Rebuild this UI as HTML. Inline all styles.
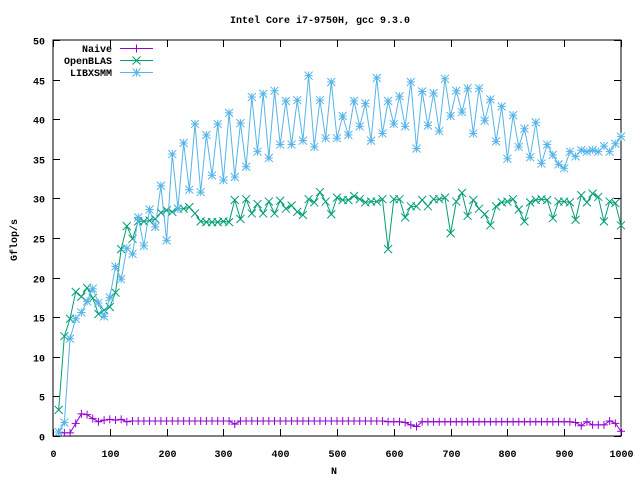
<!DOCTYPE html>
<html><head><meta charset="utf-8"><style>
body{margin:0;background:#fff}
svg text{font-family:"Liberation Mono",monospace;font-size:10px;font-weight:bold;fill:#000}
</style></head><body>
<svg id="chart" width="640" height="480" xmlns="http://www.w3.org/2000/svg">
<rect width="640" height="480" fill="#fff"/>
<text x="320" y="23" text-anchor="middle">Intel Core i7-9750H, gcc 9.3.0</text>
<text x="17" y="240" text-anchor="middle" transform="rotate(-90 17 240)">Gflop/s</text>
<text x="334" y="474" text-anchor="middle">N</text>
<g id="axes"></g>
<g id="series"></g>
<g id="legend"></g>
</svg>
<script>
const xTicks=[0,100,200,300,400,500,600,700,800,900,1000];
const yTicks=[0,5,10,15,20,25,30,35,40,45,50];
const sizes=[];for(let n=10;n<=1000;n+=10)sizes.push(n);
const naive=[0.5,0.4,0.4,1.6,2.8,2.7,2.2,1.8,2.0,2.1,2.0,2.1,1.8,1.9,1.9,1.9,1.9,1.9,1.9,1.9,1.9,1.9,1.9,1.9,1.9,1.9,1.9,1.9,1.9,1.9,1.9,1.5,1.9,1.9,1.9,1.9,1.9,1.9,1.9,1.9,1.9,1.9,1.9,1.9,1.9,1.9,1.9,1.9,1.9,1.9,1.9,1.9,1.9,1.9,1.9,1.9,1.9,1.9,1.8,1.8,1.8,1.7,1.4,1.2,1.8,1.8,1.8,1.8,1.8,1.8,1.8,1.8,1.8,1.8,1.8,1.8,1.8,1.8,1.8,1.8,1.8,1.8,1.8,1.8,1.8,1.8,1.8,1.8,1.8,1.8,1.8,1.7,1.3,1.8,1.4,1.4,1.4,1.9,1.6,0.6];
const openblas=[3.3,12.6,14.8,18.2,17.6,18.7,17.4,15.4,15.9,16.3,18.1,23.6,26.5,24.9,27.1,27.1,27.2,27.4,28.2,28.5,28.3,28.7,28.7,28.9,28.1,27.1,27.0,27.0,27.0,27.1,27.0,29.8,27.4,29.9,28.1,29.3,28.1,29.6,28.1,29.7,28.7,29.1,28.3,27.9,29.9,29.5,30.8,29.6,28.0,30.1,29.8,29.8,30.3,29.9,29.5,29.6,29.6,29.9,23.6,29.9,29.9,27.6,29.0,29.0,29.8,29.0,29.9,29.9,30.1,25.6,29.6,30.7,27.8,29.8,28.7,28.0,26.6,29.0,29.5,29.6,29.9,28.6,27.1,29.5,29.8,29.9,29.8,27.5,29.6,29.6,29.5,27.3,30.4,29.5,30.6,30.2,27.1,29.6,29.4,26.6];
const libxsmm=[0.5,1.7,12.3,14.8,15.6,17.0,18.6,16.8,15.1,17.5,21.4,19.8,23.7,23.0,27.6,24.0,28.6,26.4,31.6,24.7,35.6,28.7,37.0,31.1,39.4,30.8,38.0,32.9,39.4,32.3,40.8,32.7,39.5,34.0,42.8,35.9,43.2,35.1,43.6,36.8,42.3,36.8,42.4,37.3,45.5,36.5,42.4,37.6,44.7,37.6,40.4,38.0,42.3,39.1,42.0,37.3,45.2,38.2,42.3,39.4,42.9,39.1,44.7,36.3,43.5,39.2,43.3,38.5,45.1,40.4,43.6,40.9,43.9,38.2,43.9,39.8,42.5,37.2,41.6,35.0,40.5,36.5,38.8,35.2,39.6,34.4,36.8,35.5,34.3,33.8,35.9,35.3,36.1,35.9,36.1,35.9,36.6,35.9,36.9,37.8];
const X0=53,X1=621,Y0=436,Y1=40;
const xs=v=>X0+(v/1000)*(X1-X0);
const ys=v=>Y0-(v/50)*(Y0-Y1);
const NS="http://www.w3.org/2000/svg";
function mk(tag,attrs,parent){const e=document.createElementNS(NS,tag);for(const k in attrs)e.setAttribute(k,attrs[k]);parent.appendChild(e);return e;}
const axes=document.getElementById('axes');
const frame=mk('rect',{x:X0,y:Y1,width:X1-X0,height:Y0-Y1,fill:'none',stroke:'#000','stroke-width':1},axes);


yTicks.forEach(t=>{const y=Math.round(ys(t))+0.5;
 const l=mk('path',{d:`M${X0} ${y}h7M${X1} ${y}h-7`,stroke:'#000'},axes);
 
 
 const tx=mk('text',{x:45,y:y+4,'text-anchor':'end'},axes);tx.textContent=t;
 
 });
xTicks.forEach(t=>{const x=Math.round(xs(t))+0.5;
 const l=mk('path',{d:`M${x} ${Y0}v-7M${x} ${Y1}v7`,stroke:'#000'},axes);
 
 
 const tx=mk('text',{x:x,y:457,'text-anchor':'middle'},axes);tx.textContent=t;
 
 });
function marker(type,x,y,c,g){let d='';const s=4;
 if(type==='plus'||type==='star')d+=`M${x-s} ${y}h${2*s}M${x} ${y-s}v${2*s}`;
 if(type==='cross'||type==='star')d+=`M${x-s} ${y-s}l${2*s} ${2*s}M${x-s} ${y+s}l${2*s} ${-2*s}`;
 const p=mk('path',{d:d,stroke:c,'stroke-width':1,fill:'none'},g);
 
 }
const series=[{name:'Naive',vals:naive,c:'#9400d3',m:'plus'},{name:'OpenBLAS',vals:openblas,c:'#009e73',m:'cross'},{name:'LIBXSMM',vals:libxsmm,c:'#56b4e9',m:'star'}];
const sg=document.getElementById('series'),lg=document.getElementById('legend');
series.forEach((s,i)=>{
 const g=mk('g',{},sg);
 
 
 const pts=s.vals.map((v,j)=>[xs(sizes[j]),ys(v)]);
 const ln=mk('polyline',{points:pts.map(p=>p.join(',')).join(' '),fill:'none',stroke:s.c,'stroke-width':1},g);
 
 
 pts.forEach(p=>marker(s.m,p[0],p[1],s.c,g));
 const ly=48+i*12;
 const le=mk('g',{},lg);
 
 
 const t=mk('text',{x:112,y:ly+4,'text-anchor':'end'},le);t.textContent=s.name;
 mk('path',{d:`M120 ${ly+0.5}h33`,stroke:s.c},le);
 marker(s.m,136.5,ly+0.5,s.c,le);
});
</script>
</body></html>
